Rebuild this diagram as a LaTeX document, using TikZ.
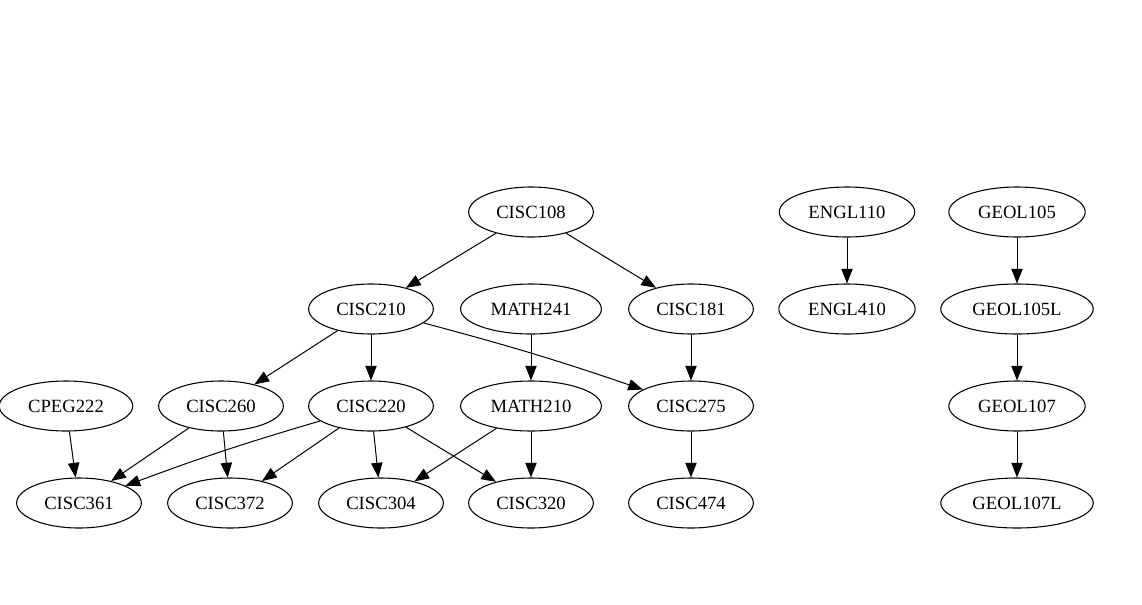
\documentclass[tikz,border=0pt]{standalone}
\usepackage{fontspec}
\setmainfont{Liberation Serif}
\usetikzlibrary{shapes.geometric,arrows.meta}

\tikzset{
  course/.style={draw, ellipse, line width=0.8pt, inner xsep=7pt, inner ysep=2pt,
    minimum height=37.5pt, font=\fontsize{14}{16}\selectfont},
  prereq/.style={-{Triangle[length=11pt,width=8.5pt]}, line width=0.75pt},
}

\begin{document}
\begin{tikzpicture}[x=0.75pt, y=-0.75pt]
 \useasboundingbox (0,0) rectangle (1142,604);

 % rank 1
 \foreach \x/\name in {531/CISC108, 847/ENGL110, 1017/GEOL105}
   \node[course] (\name) at (\x,212) {\name};

 % rank 2
 \foreach \x/\name in {371/CISC210, 531/MATH241, 691/CISC181, 847/ENGL410, 1017/GEOL105L}
   \node[course] (\name) at (\x,309) {\name};

 % rank 3
 \foreach \x/\name in {66/CPEG222, 221/CISC260, 371/CISC220, 531/MATH210, 691/CISC275, 1017/GEOL107}
   \node[course] (\name) at (\x,406) {\name};

 % rank 4
 \foreach \x/\name in {79/CISC361, 230/CISC372, 381/CISC304, 531/CISC320, 691/CISC474, 1017/GEOL107L}
   \node[course] (\name) at (\x,503) {\name};

 % edges
 \foreach \source/\dest in {CISC108/CISC210, CISC108/CISC181, ENGL110/ENGL410, GEOL105/GEOL105L,
     CISC210/CISC260, CISC210/CISC220, MATH241/MATH210, CISC181/CISC275,
     GEOL105L/GEOL107, CPEG222/CISC361, CISC260/CISC361, CISC260/CISC372,
     CISC220/CISC372, CISC220/CISC304, CISC220/CISC320, MATH210/CISC304, MATH210/CISC320,
     CISC275/CISC474, GEOL107/GEOL107L}
   \draw[prereq] (\source) -- (\dest);

 % the two long ones bow a little
 \draw[prereq] (CISC210) to[bend left=2] (CISC275);
 \draw[prereq] (CISC220) to[bend right=2] (CISC361);

\end{tikzpicture}
\end{document}
